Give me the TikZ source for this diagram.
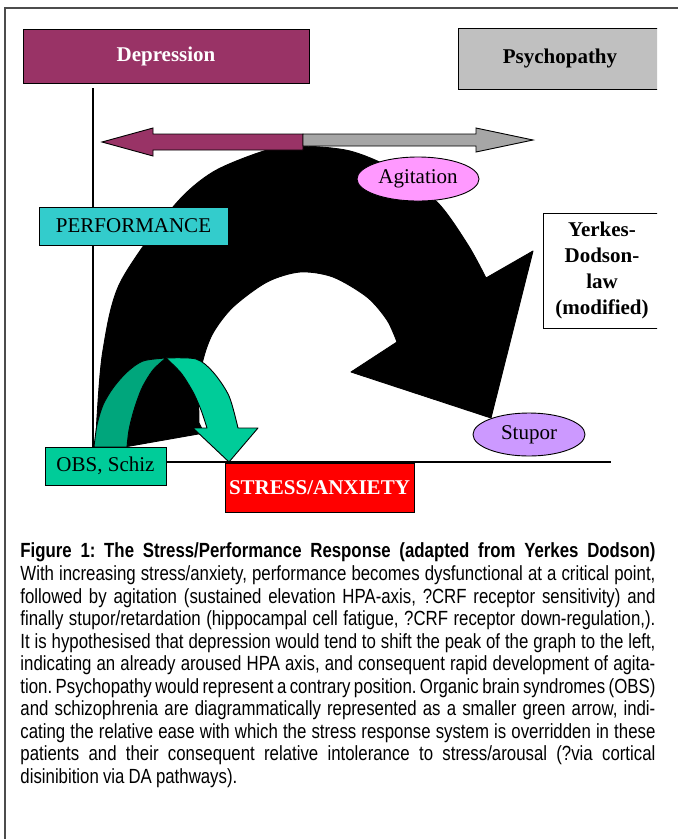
\documentclass[tikz,border=0pt]{standalone}
\usepackage{fontspec}
\setmainfont{Liberation Serif}
\newfontfamily\capfont[FakeStretch=0.82]{Liberation Sans}
\usetikzlibrary{shapes.geometric}

\definecolor{depcol}{HTML}{993366}
\definecolor{psycol}{HTML}{C0C0C0}
\definecolor{arrgray}{HTML}{A6A6A6}
\definecolor{perfcol}{HTML}{33CCCC}
\definecolor{agicol}{HTML}{FF99FF}
\definecolor{stucol}{HTML}{CC99FF}
\definecolor{obscol}{HTML}{00CC99}
\definecolor{obsdark}{HTML}{00A67C}
\definecolor{stresscol}{HTML}{FF0000}
\newcommand\diagfont{\fontsize{21}{26}\selectfont}
\newcommand\capsize{\fontsize{20.5}{22}\selectfont\spaceskip=0.2em plus 1em minus 0.05em}
\frenchspacing

\begin{document}
\begin{tikzpicture}[x=1pt, y=-1pt,
    box/.style = {draw, rectangle, inner sep=0pt, font=\diagfont},
    oval/.style = {draw, ellipse, inner sep=0pt, font=\diagfont},
    captext/.style = {anchor=base west, inner sep=0pt, font=\capfont\capsize},
    line width=0.9pt]
        \useasboundingbox (0,0) rectangle (678,839);
        \draw[gray!60!black, line width=1.5pt] (5,839) -- (5,8) -- (678,8);

        % axes
        \coordinate (O) at (93,462);
        \draw[line width=1.2pt] (93,88) -- (O) -- (611,462);

        % big black arrow
        \filldraw[black, line join=round]
            plot[smooth] coordinates {(96,452) (97,417) (103,350) (120,283) (173,207) (213,172) (267,150) (300,146) (350,151) (395,170) (438,203) (468,245) (486,278)}
            -- (533,251) -- (491,418) -- (351,372)
            -- plot[smooth] coordinates {(397,342) (387,320) (367,297) (333,277) (300,272) (267,282) (233,307) (213,333) (203,360) (199,390) (199,423)}
            -- (204,433) -- cycle;

        % shift arrows
        \coordinate (peak) at (303,142);
        \filldraw[fill=depcol] (303,134) -- (153,134) -- (153,128) -- (102,142) -- (153,156) -- (153,150) -- (303,150) -- cycle;
        \filldraw[fill=arrgray] (303,134) -- (476,134) -- (476,128) -- (533,140) -- (476,152) -- (476,146) -- (303,146) -- cycle;

        % small green arrow
        \filldraw[fill=obsdark, line join=round]
            plot[smooth] coordinates {(94,447) (97,425) (103,405) (113,388) (127,372) (143,361) (166,358)}
            -- plot[smooth] coordinates {(166,358) (153,370) (142,388) (134,410) (129,430) (127,447)} -- cycle;
        \filldraw[fill=obscol, line join=round]
            plot[smooth] coordinates {(166,358) (196,359) (213,372) (229,396) (238,428)}
            -- (258,428) -- (229,462) -- (193,428) -- (207,428)
            -- plot[smooth] coordinates {(207,428) (201,410) (193,392) (181,373) (166,358)} -- cycle;

        \node[box, fill=depcol, text=white, font=\diagfont\bfseries, minimum width=286, minimum height=54] at (166,56) (dep) {Depression};
        \begin{scope}
            \clip (0,0) rectangle (657,839);
            \node[box, fill=psycol, font=\diagfont\bfseries, minimum width=204, minimum height=61] at (560,58.5) (psy) {Psychopathy};
            \node[box, font=\diagfont\bfseries, align=center, minimum width=118, minimum height=115] at (602,270.5) (yd) {Yerkes-\\Dodson-\\law\\(modified)};
        \end{scope}
        \node[box, fill=perfcol, minimum width=189, minimum height=38] at (133.5,226) (perf) {PERFORMANCE};
        \node[oval, fill=agicol, minimum width=122, minimum height=44] at (418,179) (agi) {Agitation};
        \node[oval, fill=stucol, minimum width=112, minimum height=43] at (529,434.5) (stu) {Stupor};
        \node[box, fill=obscol, minimum width=121, minimum height=38] at (105.5,466) (obs) {OBS, Schiz};
        \node[box, fill=stresscol, text=white, font=\diagfont\bfseries, minimum width=189, minimum height=49] at (319.5,487.5) (stress) {STRESS/ANXIETY};

        % caption
        \node[captext, font=\capfont\bfseries\capsize] (head) at (20,557) {\makebox[635pt][s]{Figure 1: The Stress/Performance Response (adapted from Yerkes Dodson)}};
        \foreach \ln [count=\i from 0] in {
            {With increasing stress/anxiety, performance becomes dysfunctional at a critical point,},
            {followed by agitation (sustained elevation HPA-axis, ?CRF receptor sensitivity) and},
            {finally stupor/retardation (hippocampal cell fatigue, ?CRF receptor down-regulation,).},
            {It is hypothesised that depression would tend to shift the peak of the graph to the left,},
            {indicating an already aroused HPA axis, and consequent rapid development of agita-},
            {tion. Psychopathy would represent a contrary position. Organic brain syndromes (OBS)},
            {and schizophrenia are diagrammatically represented as a smaller green arrow, indi-},
            {cating the relative ease with which the stress response system is overridden in these},
            {patients and their consequent relative intolerance to stress/arousal (?via cortical}}
            \node[captext] (cap\i) at (20,580.5+22.56*\i) {\makebox[635pt][s]{\ln}};
        \node[captext] (last) at (20,783.5) {disinibition via DA pathways).};
\end{tikzpicture}
\end{document}
